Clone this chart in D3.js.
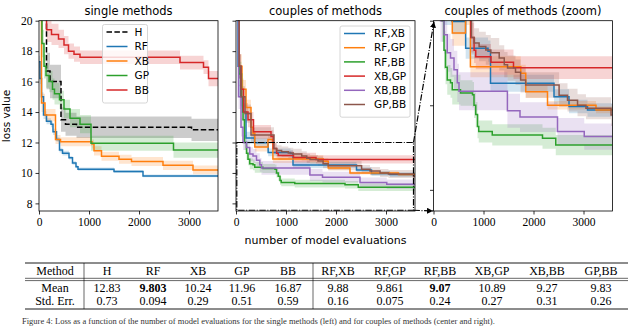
<!DOCTYPE html>
<html><head><meta charset="utf-8">
<script src="https://cdn.jsdelivr.net/npm/d3@7"></script>
<style>body{margin:0;background:#fff}svg{display:block}</style>
</head><body>
<svg id="c" width="640" height="327"></svg>
<script>
// ---------------- DATA ----------------
const X_END = 3580;
const xTicks = [0, 1000, 2000, 3000];
const yTicks = [8, 10, 12, 14, 16, 18, 20];
const zoomYTicks = [8, 10, 12];

// single methods (step start x, step value, band half-width)
const hX  = [0, 150, 220, 440, 530, 750, 3050];
const hY  = [24, 16.7, 16.0, 13.5, 13.2, 13.0, 12.83];
const hE  = [1.5, 1.2, 1.1, 0.8, 0.75, 0.7, 0.73];
const rfX = [0, 20, 50, 90, 150, 240, 280, 350, 410, 470, 600, 670, 740, 780, 1500, 2080];
const rfY = [17.3, 16.2, 15.0, 13.8, 13.4, 13.2, 12.7, 12.2, 11.5, 11.3, 11.0, 10.65, 10.4, 10.25, 10.1, 9.8];
const rfE = [0.4, 0.35, 0.3, 0.25, 0.2, 0.2, 0.2, 0.15, 0.15, 0.15, 0.12, 0.12, 0.1, 0.1, 0.1, 0.09];
const xbX = [0, 50, 120, 330, 430, 1060, 1100, 1250, 1600, 1850, 2480, 3080];
const xbY = [21, 14.6, 13.8, 12.2, 12.05, 11.9, 11.45, 11.1, 10.9, 10.75, 10.5, 10.2];
const xbE = [0.8, 0.6, 0.4, 0.3, 0.3, 0.3, 0.3, 0.3, 0.3, 0.3, 0.3, 0.29];
const gpX = [0, 60, 100, 140, 200, 270, 310, 410, 500, 620, 820, 1040, 2690];
const gpY = [22, 18.5, 17.0, 16.4, 16.0, 15.5, 15.2, 14.8, 14.2, 13.6, 13.2, 11.95, 11.5];
const gpE = [1.0, 0.9, 0.8, 0.8, 0.7, 0.7, 0.7, 0.6, 0.6, 0.6, 0.6, 0.5, 0.5];
const bbX = [0, 150, 250, 390, 500, 590, 700, 820, 2820, 3290, 3390];
const bbY = [24, 19.4, 19.1, 18.8, 18.4, 18.0, 17.8, 17.6, 17.25, 16.95, 16.2];
const bbE = [0.9, 0.8, 0.7, 0.6, 0.6, 0.5, 0.5, 0.45, 0.45, 0.45, 0.5];

// couples of methods
const rfxbX = [0, 40, 90, 130, 200, 370, 643, 1090, 1140, 2410, 2710, 3080];
const rfxbY = [21, 17.0, 15.0, 14.0, 12.3, 11.98, 11.35, 11.28, 10.52, 10.2, 9.97, 9.89];
const rfxbE = [1.0, 0.8, 0.6, 0.5, 0.4, 0.3, 0.25, 0.25, 0.2, 0.18, 0.16, 0.16];
const rfgpX = [0, 60, 120, 200, 300, 340, 376, 640, 738, 1745, 1845, 2280, 3250];
const rfgpY = [21, 17.0, 15.5, 14.3, 13.0, 12.6, 11.71, 12.2, 10.91, 10.76, 10.32, 10.0, 9.89];
const rfgpE = [1.0, 0.8, 0.6, 0.5, 0.4, 0.35, 0.3, 0.3, 0.25, 0.2, 0.15, 0.1, 0.08];
const rfbbX = [0, 60, 110, 140, 170, 210, 240, 275, 340, 375, 540, 780, 810, 845, 880, 905, 1175, 2180, 2445];
const rfbbY = [21, 16.5, 15.0, 13.5, 12.0, 11.3, 10.9, 10.6, 10.53, 10.37, 10.29, 10.25, 10.0, 9.78, 9.5, 9.38, 9.30, 9.22, 9.06];
const rfbbE = [1.0, 0.8, 0.7, 0.6, 0.5, 0.45, 0.4, 0.35, 0.35, 0.35, 0.3, 0.3, 0.3, 0.3, 0.28, 0.26, 0.25, 0.25, 0.24];
const xbgpX = [0, 60, 100, 150, 240, 350, 700, 745, 812, 845, 1150, 1600];
const xbgpY = [21, 17.0, 15.5, 14.0, 13.5, 12.7, 12.4, 11.6, 11.3, 11.15, 11.02, 10.89];
const xbgpE = [1.0, 0.8, 0.7, 0.6, 0.5, 0.45, 0.4, 0.35, 0.3, 0.3, 0.3, 0.27];
const xbbbX = [0, 50, 100, 140, 210, 275, 340, 410, 476, 510, 1478, 1730, 2480, 3015];
const xbbbY = [21, 15.0, 13.0, 12.0, 11.67, 11.24, 11.12, 10.84, 10.53, 10.33, 9.87, 9.72, 9.38, 9.26];
const xbbbE = [1.0, 0.8, 0.6, 0.5, 0.45, 0.45, 0.45, 0.45, 0.45, 0.45, 0.4, 0.35, 0.32, 0.31];
const gpbbX = [0, 60, 100, 180, 300, 760, 812, 912, 1046, 1146, 1314, 1415, 1481, 1640, 1742, 1843, 2512, 2680, 2881, 3049, 3551];
const gpbbY = [21, 17, 15, 13.9, 12.5, 11.6, 11.47, 11.39, 11.31, 11.24, 11.12, 10.96, 10.88, 10.78, 10.6, 10.48, 10.24, 10.12, 10.0, 9.93, 9.77];
const gpbbE = [1.0, 0.8, 0.7, 0.6, 0.5, 0.4, 0.35, 0.35, 0.35, 0.35, 0.3, 0.3, 0.3, 0.3, 0.3, 0.3, 0.28, 0.27, 0.26, 0.26, 0.26];

// table
const tableMethods = ["H", "RF", "XB", "GP", "BB", "RF,XB", "RF,GP", "RF,BB", "XB,GP", "XB,BB", "GP,BB"];
const tableMeans   = ["12.83", "9.803", "10.24", "11.96", "16.87", "9.88", "9.861", "9.07", "10.89", "9.27", "9.83"];
const tableErrs    = ["0.73", "0.094", "0.29", "0.51", "0.59", "0.16", "0.075", "0.24", "0.27", "0.31", "0.26"];
const tableBold    = ["RF", "RF,BB"];
const caption = "Figure 4: Loss as a function of the number of model evaluations for the single methods (left) and for couples of methods (center and right).";

// ---------------- BUILD ----------------
const mk = (name, xs, ys, es, color, dash) => ({
  name, color, dash,
  pts: xs.map((x, i) => ({x, y: ys[i], e: es[i]})).concat([{x: X_END, y: ys[ys.length-1], e: es[es.length-1]}])
});
const singles = [
  mk("H", hX, hY, hE, "#000000", "5.5,2.4"),
  mk("RF", rfX, rfY, rfE, "#1f77b4"),
  mk("XB", xbX, xbY, xbE, "#ff7f0e"),
  mk("GP", gpX, gpY, gpE, "#2ca02c"),
  mk("BB", bbX, bbY, bbE, "#d62728")
];
const couples = [
  mk("RF,XB", rfxbX, rfxbY, rfxbE, "#1f77b4"),
  mk("RF,GP", rfgpX, rfgpY, rfgpE, "#ff7f0e"),
  mk("RF,BB", rfbbX, rfbbY, rfbbE, "#2ca02c"),
  mk("XB,GP", xbgpX, xbgpY, xbgpE, "#d62728"),
  mk("XB,BB", xbbbX, xbbbY, xbbbE, "#9467bd"),
  mk("GP,BB", gpbbX, gpbbY, gpbbE, "#8c564b")
];

const svg = d3.select("#c");
const SANS = "DejaVu Sans, sans-serif";
const SERIF = "Liberation Serif, serif";
const TOP = 20.7, BOT = 211;

function panel(id, x0, x1, yDomain, series, opts) {
  const x = d3.scaleLinear([0, X_END], [x0, x1]);
  const y = d3.scaleLinear(yDomain, [BOT, TOP]);
  const g = svg.append("g");
  g.append("clipPath").attr("id", "clip" + id).append("rect")
    .attr("x", x0).attr("y", TOP).attr("width", x1 - x0).attr("height", BOT - TOP);
  const pg = g.append("g").attr("clip-path", `url(#clip${id})`);
  const area = d3.area().curve(d3.curveStepAfter).x(d => x(d.x)).y0(d => y(d.y - d.e)).y1(d => y(d.y + d.e));
  const line = d3.line().curve(d3.curveStepAfter).x(d => x(d.x)).y(d => y(d.y));
  series.forEach(s => {
    pg.append("path").attr("d", area(s.pts)).attr("fill", s.color).attr("fill-opacity", 0.2).attr("stroke", "none");
  });
  series.forEach(s => {
    pg.append("path").attr("d", line(s.pts)).attr("fill", "none").attr("stroke", s.color)
      .attr("stroke-width", 1.5).attr("stroke-dasharray", s.dash || null);
  });
  const ax = g.append("g").attr("transform", `translate(0,${BOT})`)
    .call(d3.axisBottom(x).tickValues(xTicks).tickSize(3.5).tickPadding(3).tickFormat(d3.format("d")));
  const ay = g.append("g").attr("transform", `translate(${x0},0)`)
    .call(d3.axisLeft(y).tickValues(opts.yTicks).tickSize(3.5).tickPadding(3)
      .tickFormat(opts.yLabels ? d3.format("d") : () => ""));
  [ax, ay].forEach(a => {
    a.select(".domain").remove();
    a.selectAll("line").attr("stroke", "#000").attr("stroke-width", 0.8);
    a.selectAll("text").attr("font-family", SERIF).attr("font-size", 11.5).attr("fill", "#000");
  });
  g.append("rect").attr("x", x0).attr("y", TOP).attr("width", x1 - x0).attr("height", BOT - TOP)
    .attr("fill", "none").attr("stroke", "#000").attr("stroke-width", 0.8);
  g.append("text").attr("x", (x0 + x1) / 2).attr("y", 15).attr("text-anchor", "middle")
    .attr("font-family", SANS).attr("font-size", 11.5).text(opts.title);
  return {x, y, g};
}

function legend(series, bx, by, bw, lh, tx) {
  const g = svg.append("g");
  g.append("rect").attr("x", bx).attr("y", by).attr("width", bw).attr("height", lh * series.length + 6)
    .attr("rx", 2).attr("fill", "#fff").attr("fill-opacity", 0.8).attr("stroke", "#ccc").attr("stroke-width", 0.8);
  series.forEach((s, i) => {
    const cy = by + 7.5 + i * lh;
    g.append("line").attr("x1", bx + 4).attr("x2", bx + 25).attr("y1", cy).attr("y2", cy)
      .attr("stroke", s.color).attr("stroke-width", 1.5).attr("stroke-dasharray", s.dash || null);
    g.append("text").attr("x", bx + tx).attr("y", cy).attr("dy", "0.35em")
      .attr("font-family", SANS).attr("font-size", 10.5).text(s.name);
  });
}

const p1 = panel(1, 39, 218, [7.5, 20], singles, {title: "single methods", yTicks, yLabels: true});
const p2 = panel(2, 236, 415, [7.5, 20], couples, {title: "couples of methods", yTicks, yLabels: false});
const p3 = panel(3, 433.5, 612.5, [7.5, 12], couples, {title: "couples of methods (zoom)", yTicks: zoomYTicks, yLabels: false});

legend(singles, 102.5, 24.5, 45, 14.5, 32);
legend(couples, 340, 26, 70, 14.2, 34);

svg.append("text").attr("transform", "translate(10,116) rotate(-90)").attr("text-anchor", "middle")
  .attr("font-family", SANS).attr("font-size", 10.5).text("loss value");
svg.append("text").attr("x", 325.5).attr("y", 244).attr("text-anchor", "middle")
  .attr("font-family", SANS).attr("font-size", 11).text("number of model evaluations");

// zoom rectangle and connectors
const dd = "6.4,1.6,1,1.6";
const rx0 = p2.x(0) + 0.8, rx1 = p2.x(X_END) - 1.5, ry0 = p2.y(12), ry1 = p2.y(7.55);
svg.append("rect").attr("x", rx0).attr("y", ry0).attr("width", rx1 - rx0).attr("height", ry1 - ry0)
  .attr("fill", "none").attr("stroke", "#000").attr("stroke-width", 1.2).attr("stroke-dasharray", dd);
svg.append("defs").append("marker").attr("id", "arr").attr("viewBox", "0 0 10 10")
  .attr("refX", 10).attr("refY", 5).attr("markerWidth", 5).attr("markerHeight", 5).attr("orient", "auto")
  .append("path").attr("d", "M0,0L10,5L0,10z").attr("fill", "#000");
svg.append("line").attr("x1", rx1).attr("y1", ry0).attr("x2", p3.x(0) + 0.5).attr("y2", p3.y(12) + 1)
  .attr("stroke", "#000").attr("stroke-width", 1.2).attr("stroke-dasharray", dd).attr("marker-end", "url(#arr)");
svg.append("line").attr("x1", rx1).attr("y1", ry1).attr("x2", p3.x(0) - 0.5).attr("y2", BOT)
  .attr("stroke", "#000").attr("stroke-width", 1.2).attr("stroke-dasharray", dd).attr("marker-end", "url(#arr)");

// ---------------- TABLE ----------------
const colPos = {"Method": 55, "H": 107, "RF": 153, "XB": 198, "GP": 242, "BB": 288,
  "RF,XB": 338, "RF,GP": 390, "RF,BB": 440, "XB,GP": 492, "XB,BB": 547, "GP,BB": 601};
const tg = svg.append("g").attr("font-family", SERIF).attr("font-size", 12).attr("text-anchor", "middle");
const TL = 25, TR = 628;
[[263, 0.9], [278.3, 0.6], [280.6, 0.6], [309, 0.9]].forEach(([yy, w]) =>
  tg.append("line").attr("x1", TL).attr("x2", TR).attr("y1", yy).attr("y2", yy).attr("stroke", "#000").attr("stroke-width", w));
[84, 313].forEach(xx =>
  tg.append("line").attr("x1", xx).attr("x2", xx).attr("y1", 263).attr("y2", 309).attr("stroke", "#000").attr("stroke-width", 0.6));
tg.append("text").attr("x", colPos["Method"]).attr("y", 274.5).text("Method");
tg.append("text").attr("x", colPos["Method"]).attr("y", 291.5).text("Mean");
tg.append("text").attr("x", colPos["Method"]).attr("y", 304.5).text("Std. Err.");
tableMethods.forEach((m, i) => {
  tg.append("text").attr("x", colPos[m]).attr("y", 274.5).text(m);
  tg.append("text").attr("x", colPos[m]).attr("y", 291.5).attr("font-weight", tableBold.includes(m) ? "bold" : null).text(tableMeans[i]);
  tg.append("text").attr("x", colPos[m]).attr("y", 304.5).text(tableErrs[i]);
});
svg.append("text").attr("x", 22).attr("y", 323.5).attr("font-family", SERIF).attr("font-size", 8.5)
  .attr("fill", "#333").text(caption);
</script>
</body></html>
